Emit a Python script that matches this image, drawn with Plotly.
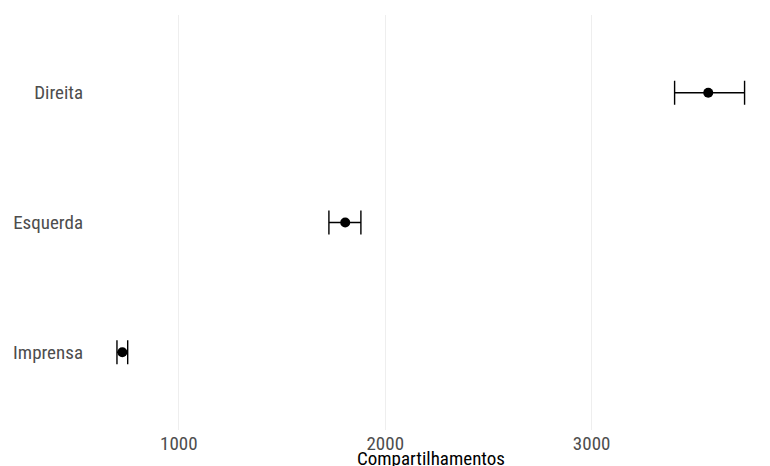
import plotly.graph_objects as go

categories = ["Imprensa", "Esquerda", "Direita"]
means = [726, 1806, 3565]
lower = [700, 1727, 3402]
upper = [752, 1882, 3741]

FONT = "Roboto Condensed, Liberation Sans Narrow, Roboto, sans-serif"

fig = go.Figure()
fig.add_trace(go.Scatter(
    x=means,
    y=categories,
    mode="markers",
    marker=dict(color="black", size=10),
    error_x=dict(
        type="data",
        symmetric=False,
        array=[u - m for u, m in zip(upper, means)],
        arrayminus=[m - l for m, l in zip(means, lower)],
        color="black",
        thickness=1.4,
        width=12,
    ),
    showlegend=False,
))

fig.update_layout(
    width=770,
    height=466,
    margin=dict(l=86, r=5, t=15, b=36, autoexpand=False),
    paper_bgcolor="white",
    plot_bgcolor="white",
    font=dict(family=FONT, size=18, color="#4D4D4D"),
    xaxis=dict(
        range=[550, 3840],
        tickvals=[1000, 2000, 3000],
        ticktext=["1000", "2000", "3000"],
        showgrid=True,
        gridcolor="#EEEEEE",
        gridwidth=1,
        zeroline=False,
        showline=False,
        ticks="",
        automargin=False,
        tickfont=dict(family=FONT, size=19, color="#4D4D4D"),
    ),
    yaxis=dict(
        type="category",
        categoryorder="array",
        categoryarray=categories,
        range=[-0.6, 2.6],
        showgrid=False,
        zeroline=False,
        showline=False,
        ticks="",
        automargin=False,
        ticklabelstandoff=2,
        tickfont=dict(family=FONT, size=19, color="#4D4D4D"),
    ),
    annotations=[dict(
        text="Compartilhamentos",
        xref="paper", yref="paper",
        x=0.508, y=-0.068,
        xanchor="center", yanchor="middle",
        showarrow=False,
        font=dict(family=FONT, size=19, color="black"),
    )],
)

fig.write_html(
    "out.html",
    config={"displayModeBar": False},
    post_script="document.body.style.margin='0';document.body.style.padding='0';",
)
